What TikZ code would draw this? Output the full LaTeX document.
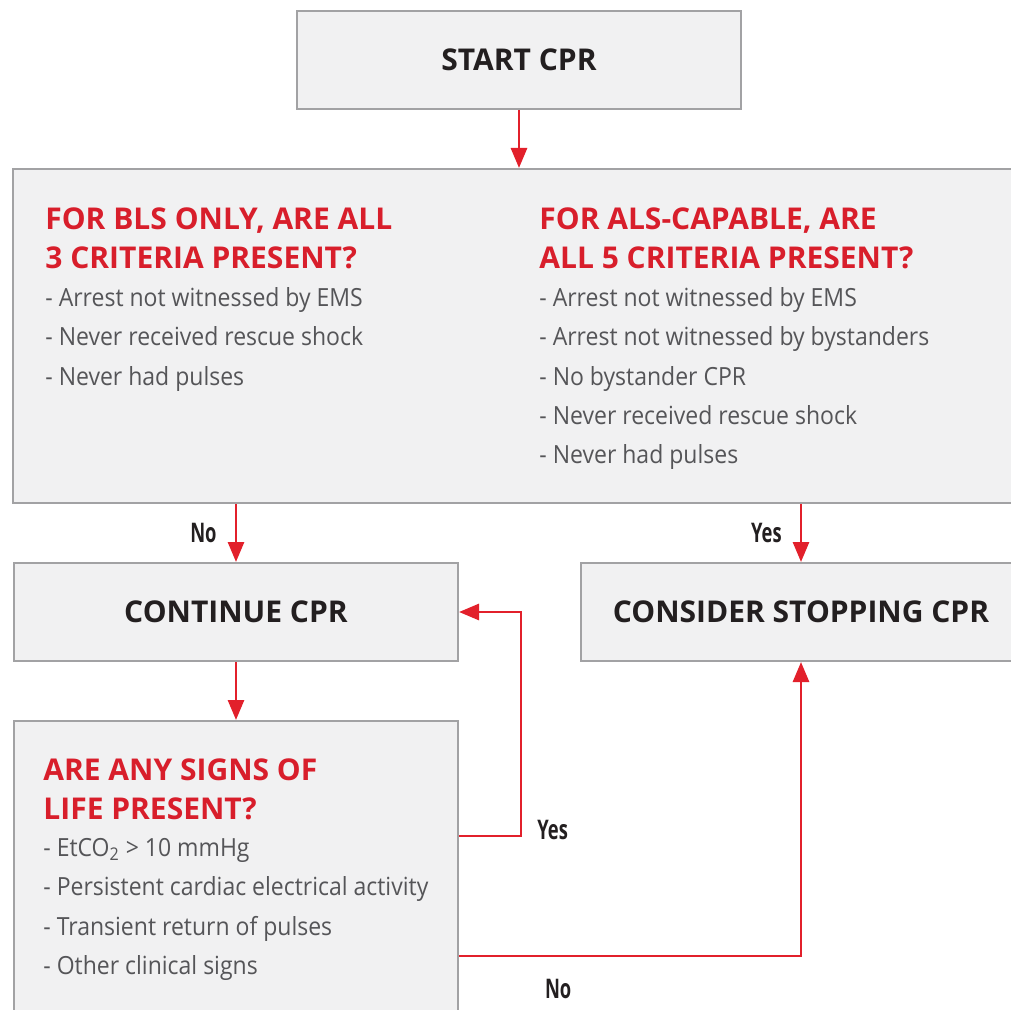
\documentclass[tikz,border=0pt]{standalone}
\usepackage{fontspec}
\setmainfont{Open Sans}
\newfontfamily\listfont{Open Sans}[FakeStretch=0.92]
\newfontfamily\condfont{Open Sans}[FakeStretch=0.68]
\usepackage{tikz}
\usetikzlibrary{positioning,arrows.meta,calc}

\definecolor{cprred}{HTML}{D81E2B}
\definecolor{arrowred}{HTML}{E2202B}
\definecolor{boxgray}{HTML}{F1F1F2}
\definecolor{linegray}{HTML}{A2A2A4}
\definecolor{textgray}{HTML}{555558}
\definecolor{darktext}{HTML}{231F20}

\begin{document}
\begin{tikzpicture}[
    x=0.5pt, y=-0.5pt,
    box/.style={draw=linegray, line width=1pt, fill=boxgray, rectangle, inner sep=0pt},
    bigtext/.style={font=\fontsize{15}{19.5}\selectfont\bfseries, text=darktext},
    head/.style={font=\fontsize{15}{19.5}\selectfont\bfseries, text=cprred, align=left, anchor=north west, inner sep=0pt},
    items/.style={font=\listfont\fontsize{12.5}{19.7}\selectfont, text=textgray, align=left, anchor=north west, inner sep=0pt},
    lbl/.style={font=\condfont\fontsize{13.5}{15}\selectfont\bfseries, text=darktext, inner sep=0pt},
    arr/.style={->, draw=arrowred, line width=1.4pt},
    >={Triangle[length=10pt,width=8pt]}
]
\clip (0,0) rectangle (1011,1010);

% Start
\node[box, bigtext, minimum width=222pt, minimum height=49pt] (start) at (519,60) {START CPR};

% Criteria
\node[box, minimum width=504pt, minimum height=167pt] (crit) at (517,336) {};
\node[head] (blshead) at (45,207) {FOR BLS ONLY, ARE ALL\\3 CRITERIA PRESENT?};
\node[items] (blslist) at (45,287)
{- Arrest not witnessed by EMS\\- Never received rescue shock\\- Never had pulses};
\node[head] (alshead) at (539,207) {FOR ALS-CAPABLE, ARE\\ALL 5 CRITERIA PRESENT?};
\node[items] (alslist) at (539,287)
{- Arrest not witnessed by EMS\\- Arrest not witnessed by bystanders\\- No bystander CPR\\- Never received rescue shock\\- Never had pulses};

% Outcomes
\node[box, bigtext, minimum width=222pt, minimum height=49pt] (cont) at (236,612) {CONTINUE CPR};
\node[box, bigtext, minimum width=220pt, minimum height=49pt] (stop) at (801,612) {CONSIDER STOPPING CPR};

% Signs of life
\node[box, minimum width=222pt, minimum height=159.5pt] (signs) at (236,880.5) {};
\node[head] (signshead) at (43,758) {ARE ANY SIGNS OF\\LIFE PRESENT?};
\node[items] (signslist) at (43,838)
{- EtCO\textsubscript{2} > 10 mmHg\\- Persistent cardiac electrical activity\\- Transient return of pulses\\- Other clinical signs};

\coordinate (yesturn) at (521,836);
\coordinate (noturn) at (801,956);

% Arrows
\draw[arr] (start.south) -- (start.south |- crit.north);
\draw[arr] (crit.south -| cont.north) -- node[lbl, left=9pt] {No} (cont.north);
\draw[arr] (crit.south -| stop.north) -- node[lbl, left=9pt] {Yes} (stop.north);
\draw[arr] (cont.south) -- (signs.north);
\draw[arr] (signs.east |- yesturn) -- (yesturn) |- (cont.east);
\draw[arr] (signs.east |- noturn) -- node[lbl, pos=.29, below=11pt] {No} (noturn) -- (stop.south);
\node[lbl, anchor=west] (yeslbl) at ([xshift=8pt, yshift=3pt]yesturn) {Yes};

\end{tikzpicture}
\end{document}
